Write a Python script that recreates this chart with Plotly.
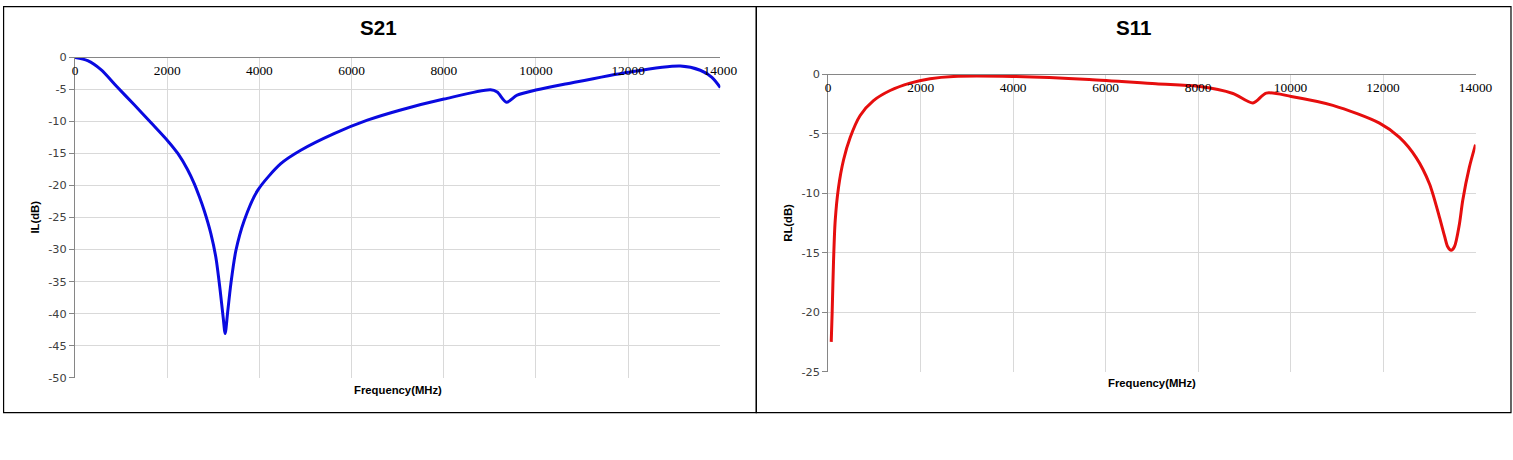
"""
S21 / S11 response of the filter, two Excel-style panels side by side.
"""

import plotly.graph_objects as go

# --- Data ---
S21_FREQ = [0, 274, 563, 900, 1285, 1650, 2008, 2230, 2440, 2586, 2700, 2802, 2947, 3055,
            3149, 3214, 3257, 3308, 3380, 3489, 3669, 3959, 4464, 4897, 5619, 6342, 7064,
            8003, 9014, 9159, 9361, 9592, 10025, 10675, 12010, 13131, 13564, 13817, 14000]
S21_DB = [0, -0.5, -1.9, -4.5, -7.4, -10.2, -13.0, -15.0, -17.5, -19.7, -21.8, -23.9, -27.5, -31.2,
          -36.4, -40.6, -43.1, -40.0, -35.4, -30.2, -25.5, -20.8, -16.6, -14.5, -11.9, -9.8, -8.2,
          -6.5, -5.05, -5.4, -7.0, -5.9, -5.05, -4.1, -2.3, -1.35, -2.0, -3.1, -4.7]

S11_FREQ = [65, 86, 115, 151, 223, 331, 475, 691, 979, 1339, 1771, 2203, 2707, 3989,
            5644, 7085, 7998, 8754, 9186, 9474, 10013, 10914, 11923, 12355, 12716,
            13003, 13219, 13330, 13399, 13472, 13543, 13651, 13723, 13867, 14000]
S11_DB = [-22.5, -19.9, -15.7, -12.3, -9.5, -7.2, -5.3, -3.45, -2.2, -1.35, -0.73, -0.36, -0.17, -0.17,
          -0.42, -0.79, -1.0, -1.6, -2.4, -1.57, -1.85, -2.6, -4.1, -5.3, -7.0,
          -9.2, -12.0, -13.6, -14.5, -14.8, -14.5, -12.6, -10.6, -7.8, -5.9]

FREQ_TICKS = list(range(0, 14001, 2000))
FREQ_LABELS = [str(v) for v in FREQ_TICKS]
IL_TICKS = list(range(0, -51, -5))
RL_TICKS = list(range(0, -26, -5))

# the page comes out slightly shrunk in the photo, so the canvas is a bit
# larger and positions (given as photo pixels) are mapped back onto it
W, H = 1532, 473
SX, OX = 0.988, 1.9
SY, OY = 0.972, 5.6


def px_x(p):
    return max((p - OX) / SX, 0.6) / W


def px_y(p):
    return 1 - max((p - OY) / SY, 0.6) / H


def fs(size):
    return round(size / SY, 1)


fig = go.Figure()

fig.add_trace(go.Scatter(
    x=S21_FREQ, y=S21_DB, mode="lines",
    line=dict(color="#0A0AE0", width=3, shape="spline", smoothing=0.8),
    xaxis="x", yaxis="y", showlegend=False, hoverinfo="x+y",
))
fig.add_trace(go.Scatter(
    x=S11_FREQ, y=S11_DB, mode="lines",
    line=dict(color="#E60E0E", width=3, shape="spline", smoothing=0.8),
    xaxis="x2", yaxis="y2", showlegend=False, hoverinfo="x+y",
))

# Excel style: x axis line sits at y=0 (top of the plot), labels just under it
xcommon = dict(
    range=[0, 14000], tickvals=FREQ_TICKS, ticktext=FREQ_LABELS,
    anchor="free", side="bottom",
    showgrid=True, gridcolor="#D9D9D9", gridwidth=1,
    showline=True, linecolor="#868686", linewidth=1,
    ticks="", zeroline=False,
    tickfont=dict(family="Liberation Serif", size=fs(13), color="#000000"),
)
ycommon = dict(
    showgrid=True, gridcolor="#D9D9D9", gridwidth=1,
    showline=True, linecolor="#868686", linewidth=1,
    ticks="outside", ticklen=5, tickcolor="#868686", zeroline=False,
    tickfont=dict(family="DejaVu Sans", size=fs(11), color="#404040"),
)

fig.update_layout(
    width=W, height=H,
    margin=dict(l=0, r=0, t=0, b=0),
    paper_bgcolor="white", plot_bgcolor="white",
    xaxis=dict(xcommon, domain=[px_x(74), px_x(720)], position=px_y(57)),
    yaxis=dict(ycommon, range=[-50, 0], domain=[px_y(377), px_y(57)], anchor="x",
               tickvals=IL_TICKS, ticktext=[str(v) for v in IL_TICKS]),
    xaxis2=dict(xcommon, domain=[px_x(828), px_x(1476)], position=px_y(74)),
    yaxis2=dict(ycommon, range=[-25, 0], domain=[px_y(371), px_y(74)], anchor="x2",
                tickvals=RL_TICKS, ticktext=[str(v) for v in RL_TICKS]),
)

# panel frames
for x0, x1 in [(0.5, 756), (756, 1511.5)]:
    fig.add_shape(type="rect", xref="paper", yref="paper",
                  x0=px_x(x0), x1=px_x(x1), y0=px_y(412), y1=px_y(0.5),
                  line=dict(color="black", width=1.2), layer="above")

bold = dict(family="Liberation Sans", color="#000000")
labels = [
    ("S21", 378, 27, 20, 0),
    ("S11", 1134, 27, 20, 0),
    ("Frequency(MHz)", 397, 389, 11, 0),
    ("Frequency(MHz)", 1152, 382, 11, 0),
    ("IL(dB)", 33, 217, 11, -90),
    ("RL(dB)", 787, 222, 11, -90),
]
for text, x, y, size, angle in labels:
    fig.add_annotation(
        text=f"<b>{text}</b>", xref="paper", yref="paper",
        x=px_x(x), y=px_y(y), xanchor="center", yanchor="middle",
        showarrow=False, textangle=angle, font=dict(bold, size=fs(size)),
    )

# pin the figure to the page origin: no body margin
page_css = "document.body.style.margin='0';"
fig.write_html("out.html", post_script=page_css, config={"displayModeBar": False})
